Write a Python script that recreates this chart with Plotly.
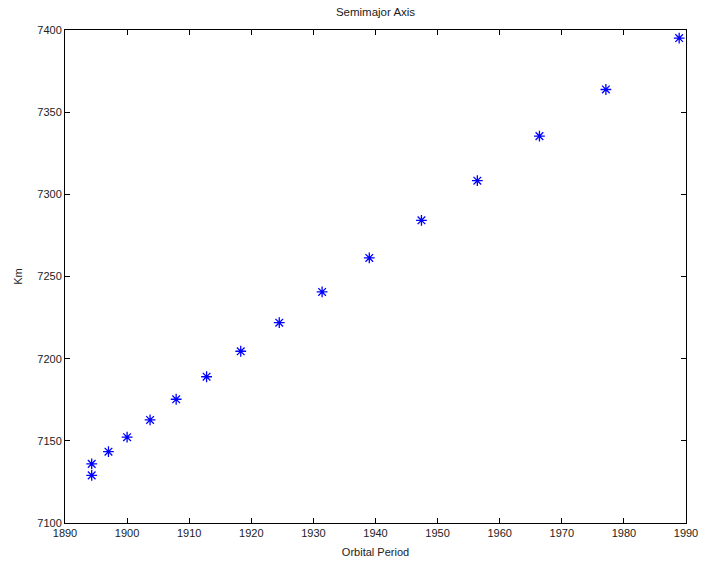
import plotly.graph_objects as go

orbital_period = [1894.3, 1894.3, 1897.0, 1900.0, 1903.7, 1907.9, 1912.8, 1918.3,
                  1924.5, 1931.4, 1939.0, 1947.4, 1956.4, 1966.4, 1977.1, 1988.9]
semimajor_km = [7136.0, 7129.0, 7143.4, 7152.2, 7162.7, 7175.3, 7189.0, 7204.5,
                7221.9, 7240.6, 7261.3, 7284.2, 7308.3, 7335.4, 7363.8, 7395.1]
x_ticks = [1890, 1900, 1910, 1920, 1930, 1940, 1950, 1960, 1970, 1980, 1990]
y_ticks = [7100, 7150, 7200, 7250, 7300, 7350, 7400]

FONT = "Liberation Sans, Arial, sans-serif"

fig = go.Figure()
fig.add_trace(go.Scatter(
    x=orbital_period, y=semimajor_km, mode="markers",
    marker=dict(symbol="asterisk-open", size=9, color="blue",
                line=dict(color="blue", width=1.3)),
    showlegend=False,
))

axis_common = dict(
    showline=True, linecolor="black", linewidth=1, mirror="ticks",
    ticks="inside", ticklen=5, tickcolor="black", tickwidth=1,
    showgrid=False, zeroline=False, automargin=False,
    tickfont=dict(family=FONT, size=11, color="#222"),
)

fig.update_xaxes(range=[1890, 1990], tickvals=x_ticks,
                 title=dict(text="Orbital Period", standoff=10,
                            font=dict(family=FONT, size=11, color="#222")),
                 **axis_common)
fig.update_yaxes(range=[7100, 7400], tickvals=y_ticks,
                 title=dict(text="Km", standoff=12,
                            font=dict(family=FONT, size=11, color="#222")),
                 **axis_common)

fig.update_layout(
    width=702, height=561, autosize=False,
    margin=dict(l=65, r=16, t=30, b=38, pad=0),
    paper_bgcolor="white", plot_bgcolor="white",
    title=dict(text="Semimajor Axis", x=(65 + 686) / 2 / 702, xanchor="center",
               y=1 - 12 / 561, yanchor="middle",
               font=dict(family=FONT, size=11.5, color="#222")),
)

fig.write_html("out.html")
